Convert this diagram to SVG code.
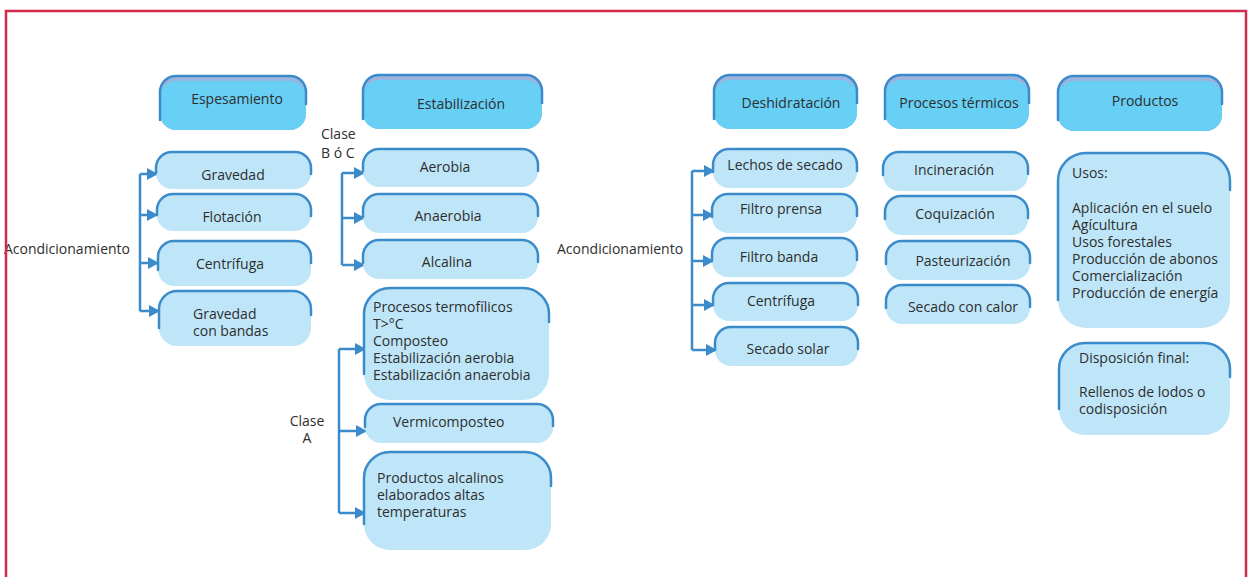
<svg xmlns="http://www.w3.org/2000/svg" width="1252" height="577" viewBox="0 0 1252 577">
  <defs>
    <style>
      text { font-family: "Open Sans", "Noto Sans", "Liberation Sans", sans-serif; font-size: 14px; fill: #2e2e2e; }
      .mid { text-anchor: middle; }
      .end { text-anchor: end; }
      .hd-band { fill: #9bb3dd; }
      .hd { fill: #68cff5; }
      .sb { fill: #bee6f8; }
      .edge { fill: none; stroke: #3b8bcb; stroke-width: 2.5; stroke-linecap: round; }
      .wire { fill: none; stroke: #3b8bcb; stroke-width: 2.5; }
      .arrow { marker-end: url(#tip); }
      .frame { fill: none; stroke: #d12a4c; stroke-width: 2.5; }
    </style>
    <marker id="tip" markerUnits="userSpaceOnUse" markerWidth="12" markerHeight="14" refX="11" refY="7" orient="auto">
      <path d="M0,1 L11,7 L0,13 Z" fill="#3b8bcb"/>
    </marker>
  </defs>

  <rect width="1252" height="577" fill="#ffffff"/>

  <!-- connectors -->
  <g id="connectors">
    <path class="wire" d="M140,174 V311"/>
    <path class="wire arrow" d="M140,174 H158"/>
    <path class="wire arrow" d="M140,215 H158"/>
    <path class="wire arrow" d="M140,263 H159"/>
    <path class="wire arrow" d="M140,311 H160"/>

    <path class="wire" d="M342,173 V265"/>
    <path class="wire arrow" d="M342,173 H365"/>
    <path class="wire arrow" d="M342,218 H365"/>
    <path class="wire arrow" d="M342,265 H365"/>

    <path class="wire" d="M339,349 V513"/>
    <path class="wire arrow" d="M339,349 H366"/>
    <path class="wire arrow" d="M339,431 H367"/>
    <path class="wire arrow" d="M339,513 H366"/>

    <path class="wire" d="M692,171 V350"/>
    <path class="wire arrow" d="M692,171 H715"/>
    <path class="wire arrow" d="M692,215 H714"/>
    <path class="wire arrow" d="M692,261 H714"/>
    <path class="wire arrow" d="M692,305 H715"/>
    <path class="wire arrow" d="M692,350 H717"/>
  </g>

  <!-- free labels -->
  <g id="labels">
    <text class="end" x="130" y="254">Acondicionamiento</text>
    <text x="321" y="139">Clase</text>
    <text x="321" y="158">B ó C</text>
    <text class="mid" x="307" y="426">Clase</text>
    <text class="mid" x="307" y="443">A</text>
    <text x="557" y="254">Acondicionamiento</text>
  </g>

  <!-- column headers -->
  <g id="espesamiento">
    <rect class="hd-band" x="160" y="76" width="146" height="54" rx="16"/>
    <rect class="hd" x="160" y="81" width="146" height="49" rx="16"/>
    <path class="edge" d="M160,120 V92 A16,16 0 0 1 176,76 H290 A16,16 0 0 1 306,92 V104"/>
    <text class="mid" x="237" y="104">Espesamiento</text>
  </g>
  <g id="estabilizacion">
    <rect class="hd-band" x="363" y="75" width="179" height="54" rx="16"/>
    <rect class="hd" x="363" y="80" width="179" height="49" rx="16"/>
    <path class="edge" d="M363,119 V91 A16,16 0 0 1 379,75 H526 A16,16 0 0 1 542,91 V103"/>
    <text class="mid" x="461" y="109">Estabilización</text>
  </g>
  <g id="deshidratacion">
    <rect class="hd-band" x="714" y="75" width="143" height="54" rx="16"/>
    <rect class="hd" x="714" y="80" width="143" height="49" rx="16"/>
    <path class="edge" d="M714,119 V91 A16,16 0 0 1 730,75 H841 A16,16 0 0 1 857,91 V103"/>
    <text class="mid" x="791" y="108">Deshidratación</text>
  </g>
  <g id="procesos-termicos">
    <rect class="hd-band" x="885" y="75" width="144" height="54" rx="16"/>
    <rect class="hd" x="885" y="80" width="144" height="49" rx="16"/>
    <path class="edge" d="M885,119 V91 A16,16 0 0 1 901,75 H1013 A16,16 0 0 1 1029,91 V103"/>
    <text class="mid" x="959" y="108">Procesos térmicos</text>
  </g>
  <g id="productos">
    <rect class="hd-band" x="1058" y="76" width="164" height="55" rx="16"/>
    <rect class="hd" x="1058" y="81" width="164" height="50" rx="16"/>
    <path class="edge" d="M1058,120 V92 A16,16 0 0 1 1074,76 H1206 A16,16 0 0 1 1222,92 V104"/>
    <text class="mid" x="1145" y="106">Productos</text>
  </g>

  <!-- espesamiento options -->
  <g id="gravedad">
    <rect class="sb" x="156" y="152" width="155" height="37" rx="16"/>
    <path class="edge" d="M156,173 V168 A16,16 0 0 1 172,152 H295 A16,16 0 0 1 311,168 V174"/>
    <text class="mid" x="233" y="180">Gravedad</text>
  </g>
  <g id="flotacion">
    <rect class="sb" x="157" y="194" width="154" height="37" rx="16"/>
    <path class="edge" d="M157,215 V210 A16,16 0 0 1 173,194 H295 A16,16 0 0 1 311,210 V216"/>
    <text class="mid" x="232" y="222">Flotación</text>
  </g>
  <g id="centrifuga-1">
    <rect class="sb" x="158" y="241" width="153" height="45" rx="16"/>
    <path class="edge" d="M158,270 V257 A16,16 0 0 1 174,241 H295 A16,16 0 0 1 311,257 V263"/>
    <text class="mid" x="230" y="269">Centrífuga</text>
  </g>
  <g id="gravedad-bandas">
    <rect class="sb" x="159" y="291" width="152" height="55" rx="18"/>
    <path class="edge" d="M159,328 V309 A18,18 0 0 1 177,291 H293 A18,18 0 0 1 311,309 V315"/>
    <text x="193" y="319">Gravedad</text>
    <text x="193" y="336">con bandas</text>
  </g>

  <!-- estabilizacion options -->
  <g id="aerobia">
    <rect class="sb" x="363" y="149" width="175" height="38" rx="16"/>
    <path class="edge" d="M363,171 V165 A16,16 0 0 1 379,149 H522 A16,16 0 0 1 538,165 V171"/>
    <text class="mid" x="445" y="172">Aerobia</text>
  </g>
  <g id="anaerobia">
    <rect class="sb" x="363" y="194" width="175" height="39" rx="16"/>
    <path class="edge" d="M363,217 V210 A16,16 0 0 1 379,194 H522 A16,16 0 0 1 538,210 V216"/>
    <text class="mid" x="448" y="221">Anaerobia</text>
  </g>
  <g id="alcalina">
    <rect class="sb" x="363" y="240" width="175" height="39" rx="16"/>
    <path class="edge" d="M363,263 V256 A16,16 0 0 1 379,240 H522 A16,16 0 0 1 538,256 V262"/>
    <text class="mid" x="447" y="267">Alcalina</text>
  </g>
  <g id="termofilicos">
    <rect class="sb" x="364" y="288" width="185" height="112" rx="26"/>
    <path class="edge" d="M364,374 V314 A26,26 0 0 1 390,288 H523 A26,26 0 0 1 549,314 V322"/>
    <text x="373" y="312">Procesos termofílicos</text>
    <text x="373" y="329">T&gt;°C</text>
    <text x="373" y="346">Composteo</text>
    <text x="373" y="363">Estabilización aerobia</text>
    <text x="373" y="380">Estabilización anaerobia</text>
  </g>
  <g id="vermicomposteo">
    <rect class="sb" x="365" y="404" width="188" height="39" rx="16"/>
    <path class="edge" d="M365,427 V420 A16,16 0 0 1 381,404 H537 A16,16 0 0 1 553,420 V426"/>
    <text x="393" y="427">Vermicomposteo</text>
  </g>
  <g id="alcalinos">
    <rect class="sb" x="364" y="452" width="187" height="98" rx="26"/>
    <path class="edge" d="M364,524 V478 A26,26 0 0 1 390,452 H525 A26,26 0 0 1 551,478 V486"/>
    <text x="377" y="483">Productos alcalinos</text>
    <text x="377" y="500">elaborados altas</text>
    <text x="377" y="517">temperaturas</text>
  </g>

  <!-- deshidratacion options -->
  <g id="lechos">
    <rect class="sb" x="713" y="149" width="144" height="39" rx="16"/>
    <path class="edge" d="M713,172 V165 A16,16 0 0 1 729,149 H841 A16,16 0 0 1 857,165 V171"/>
    <text class="mid" x="785" y="170">Lechos de secado</text>
  </g>
  <g id="filtro-prensa">
    <rect class="sb" x="712" y="194" width="145" height="39" rx="16"/>
    <path class="edge" d="M712,217 V210 A16,16 0 0 1 728,194 H841 A16,16 0 0 1 857,210 V216"/>
    <text class="mid" x="781" y="214">Filtro prensa</text>
  </g>
  <g id="filtro-banda">
    <rect class="sb" x="712" y="238" width="145" height="39" rx="16"/>
    <path class="edge" d="M712,261 V254 A16,16 0 0 1 728,238 H841 A16,16 0 0 1 857,254 V260"/>
    <text class="mid" x="779" y="262">Filtro banda</text>
  </g>
  <g id="centrifuga-2">
    <rect class="sb" x="713" y="283" width="145" height="38" rx="16"/>
    <path class="edge" d="M713,305 V299 A16,16 0 0 1 729,283 H842 A16,16 0 0 1 858,299 V305"/>
    <text class="mid" x="781" y="306">Centrífuga</text>
  </g>
  <g id="secado-solar">
    <rect class="sb" x="715" y="327" width="143" height="39" rx="16"/>
    <path class="edge" d="M715,350 V343 A16,16 0 0 1 731,327 H842 A16,16 0 0 1 858,343 V349"/>
    <text class="mid" x="788" y="354">Secado solar</text>
  </g>

  <!-- procesos termicos options -->
  <g id="incineracion">
    <rect class="sb" x="883" y="152" width="145" height="39" rx="16"/>
    <path class="edge" d="M883,175 V168 A16,16 0 0 1 899,152 H1012 A16,16 0 0 1 1028,168 V174"/>
    <text class="mid" x="954" y="175">Incineración</text>
  </g>
  <g id="coquizacion">
    <rect class="sb" x="885" y="196" width="143" height="39" rx="16"/>
    <path class="edge" d="M885,219 V212 A16,16 0 0 1 901,196 H1012 A16,16 0 0 1 1028,212 V218"/>
    <text class="mid" x="955" y="219">Coquización</text>
  </g>
  <g id="pasteurizacion">
    <rect class="sb" x="886" y="241" width="144" height="39" rx="16"/>
    <path class="edge" d="M886,264 V257 A16,16 0 0 1 902,241 H1014 A16,16 0 0 1 1030,257 V263"/>
    <text class="mid" x="963" y="266">Pasteurización</text>
  </g>
  <g id="secado-calor">
    <rect class="sb" x="886" y="285" width="144" height="39" rx="16"/>
    <path class="edge" d="M886,308 V301 A16,16 0 0 1 902,285 H1014 A16,16 0 0 1 1030,301 V307"/>
    <text class="mid" x="963" y="312">Secado con calor</text>
  </g>

  <!-- productos -->
  <g id="usos">
    <rect class="sb" x="1058" y="153" width="172" height="175" rx="28"/>
    <path class="edge" d="M1058,300 V181 A28,28 0 0 1 1086,153 H1202 A28,28 0 0 1 1230,181 V190"/>
    <text x="1072" y="178">Usos:</text>
    <text x="1072" y="213">Aplicación en el suelo</text>
    <text x="1072" y="230">Agícultura</text>
    <text x="1072" y="247">Usos forestales</text>
    <text x="1072" y="264">Producción de abonos</text>
    <text x="1072" y="281">Comercialización</text>
    <text x="1072" y="298">Producción de energía</text>
  </g>
  <g id="disposicion">
    <rect class="sb" x="1059" y="343" width="171" height="92" rx="26"/>
    <path class="edge" d="M1059,409 V369 A26,26 0 0 1 1085,343 H1204 A26,26 0 0 1 1230,369 V377"/>
    <text x="1079" y="363">Disposición final:</text>
    <text x="1079" y="397">Rellenos de lodos o</text>
    <text x="1079" y="414">codisposición</text>
  </g>

  <!-- page frame -->
  <path class="frame" d="M6,577 V11 H1246 V577"/>
</svg>
